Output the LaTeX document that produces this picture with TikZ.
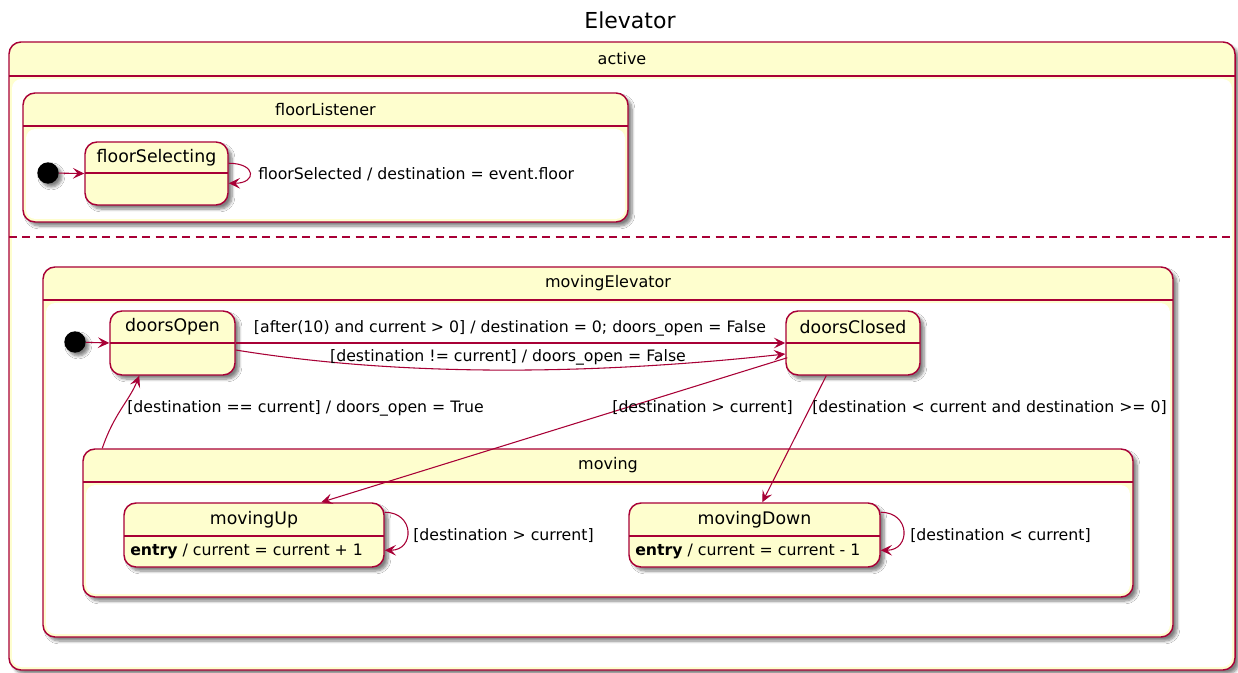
\documentclass[tikz,border=0pt]{standalone}
\usepackage{fontspec}
\setmainfont{DejaVu Sans}
\usetikzlibrary{arrows.meta,shadows.blur,fit,calc}
\definecolor{stfill}{HTML}{FEFECE}
\definecolor{stline}{HTML}{A80036}
% composite state: name, x1, y1, x2, y2, header line y, title
\newcommand\mkcomp[7]{%
  \node[box, fit={(#2,#3) (#4,#5)}] (#1) {};
  \fill[white, rounded corners=7pt] (#2+3,#6+3) rectangle (#4-3,#5-3);
  \draw[stline, line width=1.1pt] (#2,#6) -- (#4,#6);
  \node[hdr] (#1-title) at ({(#2+#4)/2},{(#3+#6)/2}) {#7};
}
% simple state: name, x1, y1, x2, y2, divider y, title, body
\newcommand\mksimple[8]{%
  \node[box, fit={(#2,#3) (#4,#5)}] (#1) {};
  \draw[stline, line width=1.1pt] (#2,#6) -- (#4,#6);
  \node[sttl] (#1-title) at ({(#2+#4)/2},{(#3+#6)/2}) {#7};
  \node[lbl, anchor=west] (#1-body) at (#2+6,{(#6+#5)/2}) {#8};
}
\begin{document}
\begin{tikzpicture}[x=0.75pt,y=-0.75pt,
  box/.style={draw=stline, line width=1.1pt, fill=stfill, rounded corners=9pt,
    inner sep=0pt, blur shadow={shadow xshift=3pt, shadow yshift=-3pt,
    shadow blur steps=6, shadow opacity=50}},
  lbl/.style={inner sep=0pt, font=\fontsize{11.8}{14}\selectfont},
  hdr/.style={inner sep=0pt, font=\fontsize{12}{14}\selectfont},
  sttl/.style={inner sep=0pt, font=\fontsize{13}{15}\selectfont},
  dot/.style={circle, fill=black, inner sep=0pt, minimum size=16pt,
    blur shadow={shadow xshift=2.5pt, shadow yshift=-2.5pt, shadow blur steps=5, shadow opacity=50}},
  conn/.style={draw=stline, line width=0.8pt, -{Stealth[length=8.5pt,width=8pt,inset=3.5pt]}}]
\useasboundingbox (0,0) rectangle (1238,673);
\node[font=\fontsize{16.5}{19}\selectfont] (title) at (630,20) {Elevator};

\mkcomp{act}{9}{42}{1235}{670}{76}{active}
\draw[stline, line width=1.1pt, dash pattern=on 6pt off 4pt] (9,237) -- (1235,237);

\mkcomp{fl}{23}{93}{628}{222}{126}{floorListener}
\mksimple{fs}{85}{142}{228}{205}{173}{floorSelecting}{}
\node[dot] (i1) at (48,173) {};
\draw[conn] (i1) -- (fs.west);
\draw[conn] ($(fs.north east)+(0,22)$) .. controls +(28,0) and +(28,0) .. ($(fs.north east)+(0,42)$);
\node[lbl, anchor=west] (l0) at (258,174) {floorSelected / destination = event.floor};

\mkcomp{me}{43}{267}{1173}{637}{300}{movingElevator}
\mksimple{do}{110}{311}{235}{375}{343}{doorsOpen}{}
\mksimple{dc}{786}{311}{920}{375}{343}{doorsClosed}{}
\node[dot] (i2) at (75,342) {};
\draw[conn] (i2) -- (do.west);

\draw[conn] (do.east) -- (dc.west);
\node[lbl] (l1) at (510,328) {[after(10) and current > 0] / destination = 0; doors\_open = False};

\draw[conn] ($(do.east)+(0,7)$) .. controls (420,380) and (620,372) .. ($(dc.west)+(0,11)$);
\node[lbl] (l2) at (508,357) {[destination != current] / doors\_open = False};

\mkcomp{mv}{83}{449}{1133}{597}{482}{moving}
\mksimple{mu}{124}{503}{384}{567}{536}{movingUp}{\textbf{entry} / current = current + 1}
\mksimple{md}{629}{503}{880}{567}{536}{movingDown}{\textbf{entry} / current = current - 1}

\draw[conn] ($(mv.north west)+(20,0)$) .. controls +(12,-35) and +(-10,25) .. ($(do.south west)+(30,0)$);
\node[lbl, anchor=west] (l3) at (127,408) {[destination == current] / doors\_open = True};

\draw[conn] ($(dc.south west)+(2,-18)$) -- ($(mu.north west)+(198,0)$);
\node[lbl, anchor=east] (l4) at (793,408) {[destination > current]};

\draw[conn] ($(dc.south west)+(41,0)$) -- ($(md.north west)+(134,0)$);
\node[lbl, anchor=west] (l5) at (812,408) {[destination < current and destination >= 0]};

\draw[conn] ($(mu.north east)+(0,10)$) .. controls +(30,0) and +(30,0) .. ($(mu.north east)+(0,48)$);
\node[lbl, anchor=west] (l6) at (413,536) {[destination > current]};

\draw[conn] ($(md.north east)+(0,10)$) .. controls +(30,0) and +(30,0) .. ($(md.north east)+(0,48)$);
\node[lbl, anchor=west] (l7) at (910,536) {[destination < current]};
\end{tikzpicture}
\end{document}
